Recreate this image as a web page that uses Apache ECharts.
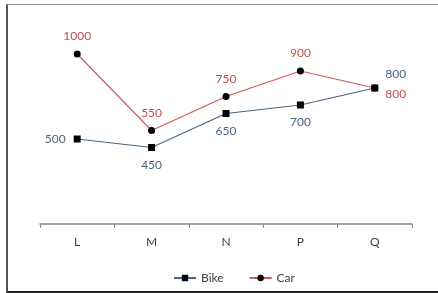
<!DOCTYPE html>
<html>
<head>
<meta charset="utf-8">
<script src="https://cdn.jsdelivr.net/npm/echarts@6/dist/echarts.min.js"></script>
<style>
html, body { margin: 0; padding: 0; background: #fff; }
#frame {
    position: absolute; left: 6px; top: 4px; width: 434px; height: 286px;
    border-top: 1px solid #888; border-left: 2px solid #555; border-bottom: 2px solid #222;
}
#main { position: absolute; left: 0; top: 0; width: 438px; height: 293px; }
</style>
</head>
<body>
<div id="frame"></div>
<div id="main"></div>
<script>
var categories = ['L', 'M', 'N', 'P', 'Q'];
var bikeValues = [500, 450, 650, 700, 800];
var carValues = [1000, 550, 750, 900, 800];

// where each value label sits
var bikeLabelPos = ['left', 'bottom', 'bottom', 'bottom', [14, -16]];
var carLabelPos = ['top', 'top', 'top', 'top', [14, 4]];

function withLabels(values, positions) {
    return values.map(function (v, i) {
        return { value: v, label: { position: positions[i] } };
    });
}

var myChart = echarts.init(document.getElementById('main'));
myChart.setOption({
    animation: false,
    textStyle: { fontFamily: 'Lato, "Open Sans", sans-serif' },
    grid: { left: 40, right: 26, top: 20, bottom: 69 },
    legend: {
        bottom: 4,
        left: 168,
        itemWidth: 22,
        itemHeight: 8,
        itemGap: 25,
        textStyle: { color: '#404040', fontSize: 12 },
        data: ['Bike', 'Car']
    },
    xAxis: {
        type: 'category',
        data: categories,
        axisLine: { lineStyle: { color: '#868686', width: 1.5 } },
        axisTick: { show: true, length: 4, lineStyle: { color: '#868686' } },
        axisLabel: { color: '#404040', fontSize: 12, margin: 12 }
    },
    yAxis: {
        type: 'value',
        min: 0,
        max: 1200,
        show: false,
        splitLine: { show: false }
    },
    series: [
        {
            name: 'Bike',
            type: 'line',
            symbol: 'rect',
            symbolSize: 7,
            itemStyle: { color: '#000' },
            lineStyle: { color: '#4a6584', width: 1.2 },
            label: { show: true, color: '#4a6584', fontSize: 12, distance: 8 },
            data: withLabels(bikeValues, bikeLabelPos)
        },
        {
            name: 'Car',
            type: 'line',
            symbol: 'circle',
            symbolSize: 7,
            itemStyle: { color: '#000' },
            lineStyle: { color: '#d2595b', width: 1.2 },
            label: { show: true, color: '#c0504d', fontSize: 12, distance: 8 },
            data: withLabels(carValues, carLabelPos)
        }
    ]
});
</script>
</body>
</html>
